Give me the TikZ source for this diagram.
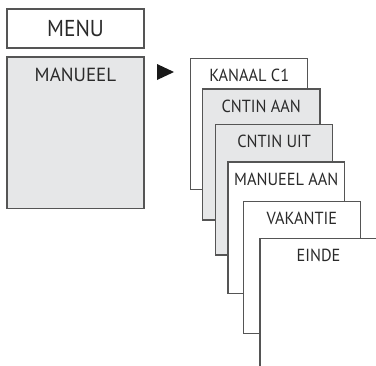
\documentclass[tikz,border=0pt]{standalone}
\usepackage{fontspec}
\setmainfont{PT Sans}
\definecolor{boxgray}{HTML}{E6E7E8}
\definecolor{edge}{HTML}{555555}
\definecolor{ink}{HTML}{2A2A2A}
\begin{document}
\begin{tikzpicture}[x=1bp,y=-1bp,
  card/.style={draw=edge,line width=1.3bp,fill=white},
  graycard/.style={card,fill=boxgray},
  lbl/.style={text=ink,anchor=base,inner sep=0pt,xscale=0.93,transform shape,font=\fontsize{17.5bp}{19bp}\selectfont},
  biglbl/.style={lbl,font=\fontsize{23bp}{25bp}\selectfont},
  midlbl/.style={text=ink,anchor=base,inner sep=0pt,font=\fontsize{19bp}{21bp}\selectfont}]
\useasboundingbox (0,0) rectangle (376,366);
\clip (0,0) rectangle (376,366);
% left column
\draw[card] (7,9) rectangle (144,48);
\node[biglbl] (menu) at (75.5,36.7) {MENU};
\draw[graycard] (7,57) rectangle (144,208.7);
\node[midlbl] (manueel) at (75.5,81.7) {MANUEEL};
% arrow
\fill[black!90] (157,64) -- (157,80) -- (174,72) -- cycle;
% stacked cards
\draw[card] (190.7,58.3) rectangle (307.7,189.3);
\node[lbl] (c1) at (249.2,81.3) {KANAAL C1};
\draw[graycard] (202.5,89) rectangle (320,220);
\node[lbl] (c2) at (261.2,112) {CNTIN AAN};
\draw[graycard] (215.5,124.3) rectangle (332.7,255);
\node[lbl] (c3) at (274.1,147.3) {CNTIN UIT};
\draw[card] (228,162) rectangle (344.7,293.3);
\node[lbl] (c4) at (286.3,185) {MANUEEL AAN};
\draw[card] (243.3,201.7) rectangle (360.3,333.3);
\node[lbl] (c5) at (301.8,224.7) {VAKANTIE};
\draw[card] (260,238.3) rectangle (377,369.3);
\node[lbl] (c6) at (318.5,261.3) {EINDE};
\end{tikzpicture}
\end{document}
